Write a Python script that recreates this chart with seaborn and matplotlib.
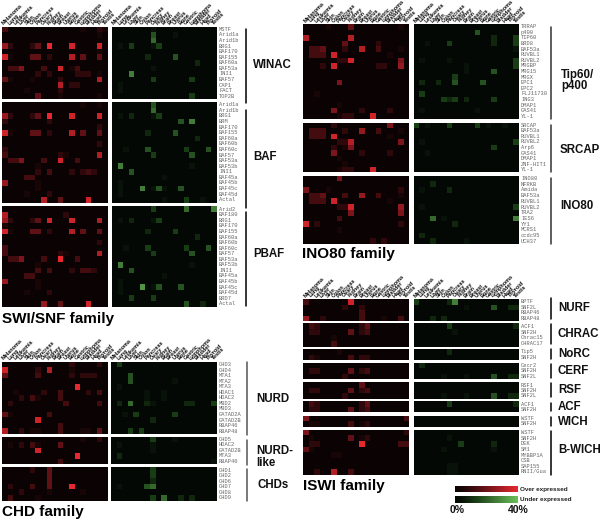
import matplotlib
matplotlib.use('Agg')
import matplotlib.pyplot as plt
from matplotlib.colors import LinearSegmentedColormap, Normalize
from matplotlib.cm import ScalarMappable
import seaborn as sns
import pandas as pd

W, H = 600, 522

TISSUES = ['Melanoma', 'Lung', 'Leukemia', 'Liver', 'Skin', 'Colon', 'Pancreas', 'Ovary', 'Kidney',
           'Brain', 'Breast', 'Uterus', 'Bone', 'Gastric', 'Lymphoma', 'Bladder', 'Head', 'Thyroid', 'Testis']

# each string is one gene row, one digit per tissue (0-9 = 0-40% of samples), trailing zeros left out
# SWI/SNF family
WINAC_GENES = ['MSTF', 'Arid1a', 'Arid1b', 'BRG1', 'BAF170', 'BAF155', 'BAF60a', 'BAF53a', 'INI1', 'BAF57', 'CAP1', 'FACT', 'TOP2B']
WINAC_OVER = ['3000000000000010021', '0000000000000000010', '0', '6200024090008000080', '0000000000000000010',
              '8100044020007040040', '0', '0335000300801300000', '0000002020000222010', '4100010000200000070',
              '0000000000702200000', '00001000002', '0000004000100000010']
WINAC_UNDER = ['00000001', '000000040001', '00000005', '0103000130', '0', '000000200004', '0000000000000002',
               '00000001', '0006', '000000030000003', '01', '01', '000000000000003']

BAF_GENES = ['Arid1a', 'Arid1b', 'BRG1', 'BRM', 'BAF170', 'BAF155', 'BAF60a', 'BAF60b', 'BAF60c', 'BAF57', 'BAF53a',
             'BAF53b', 'INI1', 'BAF45a', 'BAF45b', 'BAF45c', 'BAF45d', 'Actal']
BAF_OVER = ['0000000000000010010', '0', '6200024090008000080', '200000002', '0000000000000000020', '8100044020007040040',
            '0', '0000000000000000020', '2', '3000000000210000070', '0335000300800300000', '0000001',
            '0000002030002023200', '000033', '6000001', '0000001', '000010002', '0000000700400008']
BAF_UNDER = ['00000004', '00000005', '0102000130', '000000000000406', '0', '000000200004', '0000000000000002', '0',
             '0010004000000300040', '000000030000004', '0', '060000000000001', '0004', '0000000001', '01',
             '0100060141004', '01', '00000000010003001']

PBAF_GENES = ['Arid2', 'BAF180', 'BRG1', 'BAF170', 'BAF155', 'BAF60a', 'BAF60b', 'BAF60c', 'BAF57', 'BAF53a', 'BAF53b',
              'INI1', 'BAF45a', 'BAF45b', 'BAF45c', 'BAF45d', 'BRD7', 'Actal']
PBAF_OVER = ['0', '700000000002', '6200024080008000070', '1', '8100044020007040040', '0', '0000000000000000020', '3',
             '3000000000210000070', '0335000300900300000', '0000001', '0000003030002033200', '000033', '6000001',
             '0000001', '000010002', '0', '0000000600400008']
PBAF_UNDER = ['0000000300000500006', '0', '0102000130', '0', '000000200003', '0000000000000002', '0',
              '0010003000000300040', '000000030000004', '0', '060000000000001', '0004', '0000000001', '01',
              '010007014000400', '01', '00030003', '0000000000000400200']

# CHD family
NURD_GENES = ['CHD3', 'CHD4', 'MTA1', 'MTA2', 'MTA3', 'HDAC1', 'HDAC2', 'MBD2', 'MBD3', 'GATAD2A', 'GATAD2B', 'RBAP46', 'RBAP48']
NURD_OVER = ['0000000000002000020', '8000002070001', '4000003000002022200', '0', '00000000000009',
             '0010000200300002030', '0002031000300', '0200000000030000030', '0', '410000003', '0000008',
             '00000000003', '7002011000300011040']
NURD_UNDER = ['03', '0', '0004', '000400000001', '01', '0000001001', '0000001001', '0205002100000220003', '0',
              '001030000003', '00000002', '0', '000303']

NURDL_GENES = ['CHD5', 'HDAC2', 'GATAD2B', 'MTA3', 'RBAP46']
NURDL_OVER = ['0000000000000010020', '0102031000400', '0000008', '00000000000009', '00000000003']
NURDL_UNDER = ['000000030001', '01000001', '00000001', '02', '0000000000000000001']

CHDS_GENES = ['CHD1', 'CHD2', 'CHD6', 'CHD7', 'CHD8', 'CHD9']
CHDS_OVER = ['000002004', '000000004', '000000004', '0200030040009', '000200001000001', '0300001']
CHDS_UNDER = ['00000003', '00000003', '00000002', '01000045', '0', '0000000305002020']

# INO80 family
TIP60_GENES = ['TRRAP', 'p400', 'TIP60', 'BRD8', 'BAF53a', 'RUVBL1', 'RUVBL2', 'MRGBP', 'MRG15', 'MRGX', 'EPC1', 'EPC2',
               'FLJ11730', 'ING3', 'DMAP1', 'GAS41', 'YL-1']
TIP60_OVER = ['0000100040000000010', '0', '700000007', '00000004000002', '0334000200700300010', '0333080000000001',
              '0000002280000000050', '0002080000000220060', '0', '0', '0000005', '0', '001', '0', '0000001',
              '0000050000200002', '0000001220008']
TIP60_UNDER = ['0', '000000000004', '0000000000000020003', '0010003000000020003', '0000000000000000001', '0',
               '0100001000000000003', '0000000001000000003', '000000000100004', '00000003', '0200200400004', '0', '03',
               '000003230200003', '0', '010000000001', '0']

SRCAP_GENES = ['SRCAP', 'BAF53a', 'RUVBL1', 'RUVBL2', 'Arp6', 'GAS41', 'DMAP1', 'ZNF-HIT1', 'YL-1']
SRCAP_OVER = ['0000020000000005', '0333000200600300010', '0333080000000001', '0000002270000000050', '000002015',
              '0000050000200002', '0000001', '00000001', '0000001220008']
SRCAP_UNDER = ['3010003000030100100', '0', '0', '0100000000000000003', '000000000000003', '001', '0', '0', '0']

INO80_GENES = ['INO80', 'NFRKB', 'Amida', 'BAF53a', 'RUVBL1', 'RUVBL2', 'TRA2', 'IES6', 'YY1', 'MCRS1', 'ccdc95', 'UCH37']
INO80_OVER = ['0000005', '0', '5000100000000000020', '0334000300600300010', '0333080000000001', '0000002280000000060',
              '0000000050000000050', '0000003', '8020000000000000020', '0000001', '0', '0000000000002020']
INO80_UNDER = ['0', '0002', '0100002', '0', '0', '0100000000000000003', '0', '0005010000000000006', '00000002', '0',
               '02', '0002000001']

# ISWI family
NURF_GENES = ['BPTF', 'SNF2L', 'RBAP46', 'RBAP48']
NURF_OVER = ['300000008', '00000002002', '00000000003', '6002000000300010030']
NURF_UNDER = ['30000026', '0000000001000040022', '0', '000202']

CHRAC_GENES = ['ACF1', 'SNF2H', 'Chrac15', 'CHRAC17']
CHRAC_OVER = ['032000000024', '022000004023', '000001', '000003']
CHRAC_UNDER = ['0000003000000000002', '00000001', '0', '0']

NORC_GENES = ['Tip5', 'SNF2H']
NORC_OVER = ['0000001', '021000003022']
NORC_UNDER = ['0000002', '0']

CERF_GENES = ['Cecr2', 'SNF2H', 'SNF2L']
CERF_OVER = ['0', '022000004023', '00000002']
CERF_UNDER = ['02', '0', '0000010001000040022']

RSF_GENES = ['RSF1', 'SNF2H', 'SNF2L']
RSF_OVER = ['00000000004', '022000004023', '00000002']
RSF_UNDER = ['0', '0', '0000010001000040022']

ACF_GENES = ['ACF1', 'SNF2H']
ACF_OVER = ['032000000024', '022000004023']
ACF_UNDER = ['0000003000000000002', '0']

WICH_GENES = ['WSTF', 'SNF2H']
WICH_OVER = ['5000000000000000003', '011000003012']
WICH_UNDER = ['0', '0']

BWICH_GENES = ['WSTF', 'SNF2H', 'DEK', 'SM1', 'MYBBP1A', 'CSB', 'SAP155', 'RNII/Gua']
BWICH_OVER = ['5000000000000000002', '010000004012', '0220000000900000033', '41', '00000110', '0', '0', '002007003']
BWICH_UNDER = ['0', '0000001', '000000003000002', '000001000000001', '0', '0', '00000011', '00000011']

# low digits stay close to black, as in the picture
RED = LinearSegmentedColormap.from_list('over', [(0, '#0b0303'), (0.11, '#180505'), (0.33, '#440c10'),
                                                 (0.67, '#961a20'), (1, '#e8282e')])
GREEN = LinearSegmentedColormap.from_list('under', [(0, '#040804'), (0.11, '#081208'), (0.33, '#183c15'),
                                                    (0.67, '#437f38'), (1, '#6cc058')])


def px_axes(x0, y0, x1, y1):
    return fig.add_axes([x0 / W, 1 - y1 / H, (x1 - x0) / W, (y1 - y0) / H])


def to_frame(rows, genes):
    vals = [[int(c) for c in r.ljust(len(TISSUES), '0')] for r in rows]
    return pd.DataFrame(vals, index=genes, columns=TISSUES)


def px_text(x, y, s, size, **kw):
    fig.text(x / W, 1 - y / H, s, fontsize=size, va='center', **kw)


def panel(genes, over, under, xs, y0, y1, head=False):
    for (x0, x1), rows, cmap in zip(xs, [over, under], [RED, GREEN]):
        ax = px_axes(x0, y0, x1, y1)
        sns.heatmap(to_frame(rows, genes), ax=ax, cmap=cmap, vmin=0, vmax=9, cbar=False,
                    xticklabels=TISSUES if head else False, yticklabels=False)
        ax.set_xlabel('')
        ax.set_ylabel('')
        if head:
            ax.xaxis.tick_top()
            ax.tick_params(axis='x', length=0, pad=0.5)
            ax.set_xticklabels(TISSUES, rotation=45, ha='left', rotation_mode='anchor', fontsize=4,
                               fontweight='bold', color='#111111')
    # gene names sit in the right of the green panel
    step = (y1 - y0) / len(genes)
    for i, g in enumerate(genes):
        px_text(xs[1][1] + 2, y0 + step * (i + 0.5), g, 3.9, family='Liberation Mono', color='#666666')


def side(x, y0, y1, color='black'):
    fig.add_artist(plt.Line2D([x / W, x / W], [1 - y0 / H, 1 - y1 / H], color=color, lw=1.1))


sns.set_theme(style='white')
plt.rcParams['font.family'] = ['Liberation Sans', 'DejaVu Sans']
fig = plt.figure(figsize=(W / 100, H / 100), dpi=100)

LEFT = [(2, 108), (112, 217)]
CHD_X = [(2, 108), (111, 217)]
RIGHT = [(303.3, 409.3), (413.7, 519)]

panel(WINAC_GENES, WINAC_OVER, WINAC_UNDER, LEFT, 26.5, 99, head=True)
panel(BAF_GENES, BAF_OVER, BAF_UNDER, LEFT, 102, 202.5)
panel(PBAF_GENES, PBAF_OVER, PBAF_UNDER, LEFT, 206.5, 306.5)
panel(NURD_GENES, NURD_OVER, NURD_UNDER, CHD_X, 361.7, 434, head=True)
panel(NURDL_GENES, NURDL_OVER, NURDL_UNDER, CHD_X, 436.7, 464)
panel(CHDS_GENES, CHDS_OVER, CHDS_UNDER, CHD_X, 467.3, 500.5)
panel(TIP60_GENES, TIP60_OVER, TIP60_UNDER, RIGHT, 24, 119, head=True)
panel(SRCAP_GENES, SRCAP_OVER, SRCAP_UNDER, RIGHT, 122.7, 172.3)
panel(INO80_GENES, INO80_OVER, INO80_UNDER, RIGHT, 175.7, 244)
panel(NURF_GENES, NURF_OVER, NURF_UNDER, RIGHT, 299, 321, head=True)
panel(CHRAC_GENES, CHRAC_OVER, CHRAC_UNDER, RIGHT, 323.3, 346.7)
panel(NORC_GENES, NORC_OVER, NORC_UNDER, RIGHT, 349, 360)
panel(CERF_GENES, CERF_OVER, CERF_UNDER, RIGHT, 362.7, 379.3)
panel(RSF_GENES, RSF_OVER, RSF_UNDER, RIGHT, 382.3, 398.7)
panel(ACF_GENES, ACF_OVER, ACF_UNDER, RIGHT, 401.3, 412.3)
panel(WICH_GENES, WICH_OVER, WICH_UNDER, RIGHT, 415.7, 426.7)
panel(BWICH_GENES, BWICH_OVER, BWICH_UNDER, RIGHT, 429.7, 474.7)

# brackets next to the gene names
side(246, 29, 102.7)
side(246, 110, 207.7)
side(246, 212, 305.7)
side(246.5, 362, 435, '#555555')
side(246.5, 440, 465, '#555555')
side(246.5, 469, 501, '#555555')
side(550.7, 27, 119, '#333333')
side(550.7, 125, 172, '#333333')
side(550.7, 178, 243.7, '#333333')
side(551, 298, 319)
side(551, 324, 344)
side(551, 349, 359)
side(551, 364, 378)
side(551, 383, 397)
side(551, 403, 411)
side(551, 417, 426)
side(551, 431, 475)

# complex names
for x, y, s in [(253, 65, 'WINAC'), (253, 157, 'BAF'), (253, 254, 'PBAF'), (256, 399, 'NURD'), (256, 451, 'NURD-'),
                (256, 463, 'like'), (257, 485, 'CHDs'), (561, 75, 'Tip60/'), (561, 86, 'p400'), (560, 150, 'SRCAP'),
                (560, 206, 'INO80'), (558, 308, 'NURF'), (558, 334, 'CHRAC'), (558, 354, 'NoRC'), (558, 371, 'CERF'),
                (558, 390, 'RSF'), (558, 407, 'ACF'), (558, 422, 'WICH'), (558, 450, 'B-WICH')]:
    px_text(x, y, s, 8.3, fontweight='bold', color='#111111')

# family titles
for x, y, s in [(2, 319, 'SWI/SNF family'), (302, 254, 'INO80 family'), (2, 512, 'CHD family'), (303, 486, 'ISWI family')]:
    px_text(x, y, s, 11, fontweight='bold', color='black')

# legend bars
for y0, cmap, s in [(485.7, RED, 'Over expressed'), (496.3, GREEN, 'Under expressed')]:
    cax = px_axes(455, y0, 518, y0 + 6.7)
    cb = fig.colorbar(ScalarMappable(Normalize(0, 40), cmap), cax=cax, orientation='horizontal')
    cb.set_ticks([])
    cb.outline.set_visible(False)
    px_text(520, y0 + 3.3, s, 4.6, fontweight='bold', color='#222222')
px_text(450, 510, '0%', 7.5, fontweight='bold', color='#111111')
px_text(508, 510, '40%', 7.5, fontweight='bold', color='#111111')

fig.savefig('out.png', dpi=100, facecolor='white')
